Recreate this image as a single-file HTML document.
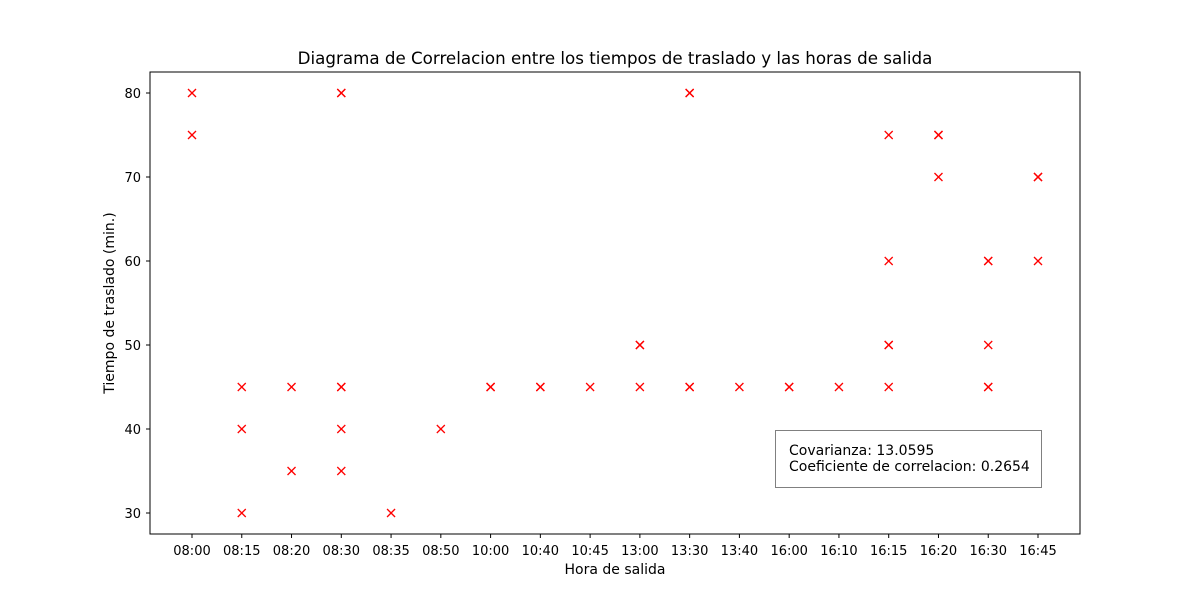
<!DOCTYPE html>
<html><head><meta charset="utf-8"><style>body{margin:0;background:#fff}svg{display:block;font-family:"DejaVu Sans","Liberation Sans",sans-serif}</style></head>
<body>
<svg id="chart" width="1200" height="600">
<rect x="0" y="0" width="1200" height="600" fill="#fff"/>
<text x="615" y="64" font-size="16.7" text-anchor="middle">Diagrama de Correlacion entre los tiempos de traslado y las horas de salida</text>
<g id="marks"></g>
<g id="ticks"></g>
<rect x="150" y="72" width="930" height="462" fill="none" stroke="#000" stroke-width="1"/>
<text x="615" y="574" font-size="14" text-anchor="middle">Hora de salida</text>
<text x="114" y="303" font-size="14" text-anchor="middle" transform="rotate(-90 114 303)">Tiempo de traslado (min.)</text>
<g>
<rect x="775.5" y="430.5" width="266" height="57" fill="#fff" stroke="#808080"/>
<text x="789" y="455" font-size="14">Covarianza: 13.0595</text>
<text x="789" y="471" font-size="14">Coeficiente de correlacion: 0.2654</text>
</g>
</svg>
<script>
const categories=["08:00","08:15","08:20","08:30","08:35","08:50","10:00","10:40","10:45","13:00","13:30","13:40","16:00","16:10","16:15","16:20","16:30","16:45"];
const pointCats=["08:00","08:00","08:15","08:15","08:15","08:20","08:20","08:30","08:30","08:30","08:30","08:30","08:30","08:35","08:50","10:00","10:00","10:40","10:40","10:45","13:00","13:00","13:00","13:30","13:30","13:30","13:30","13:40","16:00","16:00","16:10","16:15","16:15","16:15","16:15","16:15","16:20","16:20","16:20","16:30","16:30","16:30","16:30","16:30","16:45","16:45","16:45"];
const pointVals=[80,75,45,40,30,45,35,80,80,45,45,40,35,30,40,45,45,45,45,45,50,50,45,80,80,45,45,45,45,45,45,75,60,50,50,45,75,75,70,60,60,50,45,45,70,70,60];
const yTicks=[30,40,50,60,70,80];
const NS="http://www.w3.org/2000/svg";
const xs=c=>192+categories.indexOf(c)*(1038-192)/17;
const ys=v=>513-(v-30)*8.4;
const marks=document.getElementById('marks'),ticks=document.getElementById('ticks');
function mk(t,a,p){const e=document.createElementNS(NS,t);for(const k in a)e.setAttribute(k,a[k]);p.appendChild(e);return e;}
pointCats.forEach((c,i)=>{const x=xs(c),y=ys(pointVals[i]);
const g=mk('g',{stroke:'red','stroke-width':1.3},marks);


mk('line',{x1:x-4,y1:y-4,x2:x+4,y2:y+4},g);mk('line',{x1:x-4,y1:y+4,x2:x+4,y2:y-4},g);});
categories.forEach(c=>{const x=xs(c);mk('line',{x1:x,y1:534,x2:x,y2:538,stroke:'#000'},ticks);
const t=mk('text',{x:x,y:555,'font-size':13,'text-anchor':'middle'},ticks);t.textContent=c;

});
yTicks.forEach(v=>{const y=ys(v);mk('line',{x1:146,y1:y,x2:150,y2:y,stroke:'#000'},ticks);
const t=mk('text',{x:141,y:y+5,'font-size':13,'text-anchor':'end'},ticks);t.textContent=v;

});
</script>
</body></html>
